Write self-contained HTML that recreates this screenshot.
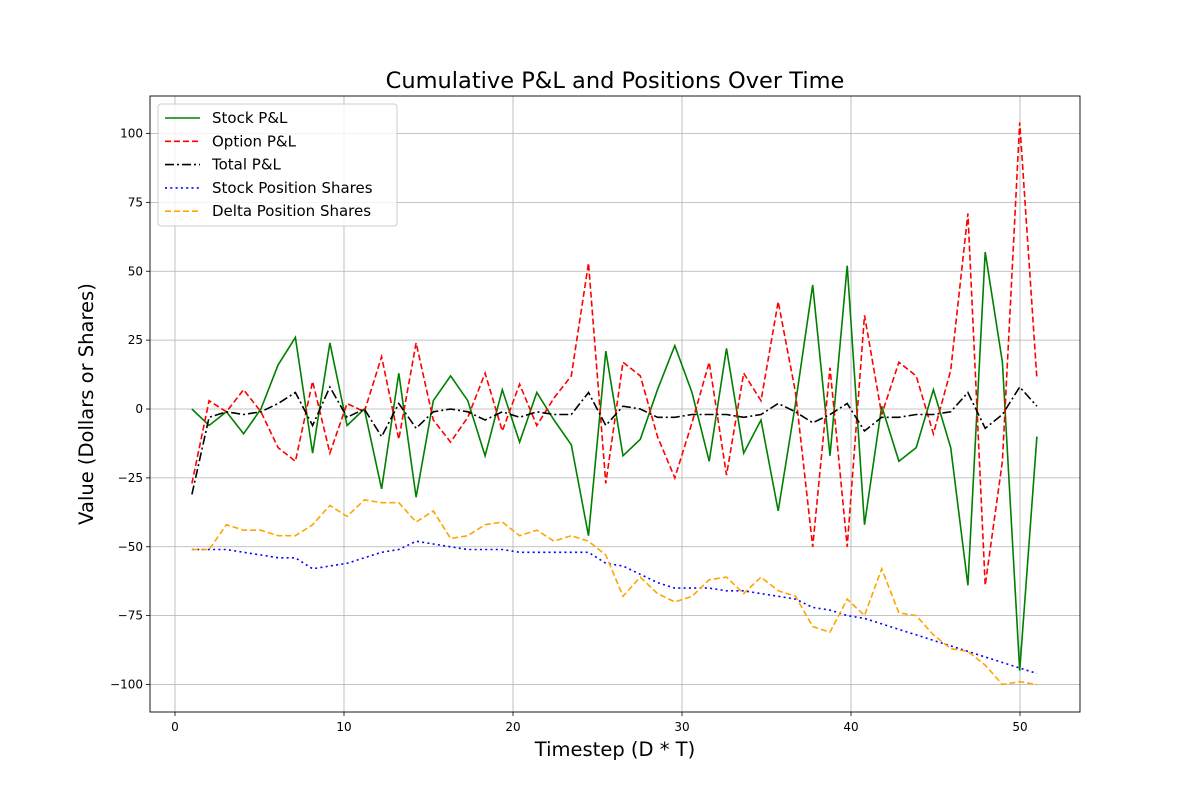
<!DOCTYPE html>
<html><head><meta charset="utf-8"><style>
body{margin:0;background:#fff;font-family:"Liberation Sans","DejaVu Sans",sans-serif}
svg{display:block}
</style></head><body>
<svg id="chart" width="1200" height="800" xmlns="http://www.w3.org/2000/svg" font-family="DejaVu Sans, Liberation Sans, sans-serif"></svg>
<script>
const stockPnl=[0,-6,-1,-9,0,16,26,-16,24,-6,0,-29,13,-32,3,12,3,-17,7,-12,6,-4,-13,-46,21,-17,-11,7,23,6,-19,22,-16,-4,-37,2,45,-17,52,-42,1,-19,-14,7,-14,-64,57,17,-95,-10];
const optionPnl=[-27,3,-1,7,-1,-14,-19,10,-16,2,-1,19,-11,24,-4,-12,-3,13,-8,9,-6,4,12,53,-27,17,12,-10,-25,-5,17,-24,13,3,39,6,-50,15,-50,34,-2,17,12,-9,14,71,-64,-19,104,11];
const totalPnl=[-31,-3,-1,-2,-1,2,6,-6,8,-3,0,-10,2,-7,-1,0,-1,-4,-1,-3,-1,-2,-2,6,-6,1,0,-3,-3,-2,-2,-2,-3,-2,2,-1,-5,-2,2,-8,-3,-3,-2,-2,-1,6,-7,-2,8,1];
const stockShares=[-51,-51,-51,-52,-53,-54,-54,-58,-57,-56,-54,-52,-51,-48,-49,-50,-51,-51,-51,-52,-52,-52,-52,-52,-56,-57,-60,-63,-65,-65,-65,-66,-66,-67,-68,-69,-72,-73,-75,-76,-78,-80,-82,-84,-86,-88,-90,-92,-94,-96];
const deltaShares=[-51,-51,-42,-44,-44,-46,-46,-42,-35,-39,-33,-34,-34,-41,-37,-47,-46,-42,-41,-46,-44,-48,-46,-48,-53,-68,-61,-67,-70,-68,-62,-61,-67,-61,-66,-68,-79,-81,-69,-75,-58,-74,-75,-82,-87,-88,-93,-100,-99,-100];
const xTicks=[0,10,20,30,40,50];
const yTicks=[-100,-75,-50,-25,0,25,50,75,100];

const svg=document.getElementById('chart');
const NS='http://www.w3.org/2000/svg';
const L=150,R=1080,T=96,B=712;
const X=v=>175+(v)*16.9;
const Y=v=>409-v*2.755;
function mk(tag,attrs,parent){const e=document.createElementNS(NS,tag);for(const k in attrs)e.setAttribute(k,attrs[k]);(parent||svg).appendChild(e);return e;}
const n=stockPnl.length;
const xs=stockPnl.map((_,i)=>1+i*50/(n-1));

xTicks.forEach(t=>{
  const g=mk('line',{x1:X(t),x2:X(t),y1:T,y2:B,stroke:'#b0b0b0','stroke-width':0.8});
  
  
  mk('line',{x1:X(t),x2:X(t),y1:B,y2:B+4,stroke:'#000','stroke-width':0.8});
  const tx=mk('text',{x:X(t),y:B+19,'text-anchor':'middle','font-size':12});
  tx.textContent=t;
  
  
});
yTicks.forEach(t=>{
  const g=mk('line',{x1:L,x2:R,y1:Y(t),y2:Y(t),stroke:'#b0b0b0','stroke-width':0.8});
  
  
  mk('line',{x1:L-4,x2:L,y1:Y(t),y2:Y(t),stroke:'#000','stroke-width':0.8});
  const tx=mk('text',{x:L-7,y:Y(t)+4,'text-anchor':'end','font-size':12});
  tx.textContent=t===0?'0':(t<0?'\u2212'+(-t):t);
  
  
});

const series=[
 {d:stockPnl,c:'green',dash:'',name:'stock-pnl-line',label:'Stock P&L'},
 {d:optionPnl,c:'red',dash:'6,3',name:'option-pnl-line',label:'Option P&L'},
 {d:totalPnl,c:'black',dash:'9,3,2,3',name:'total-pnl-line',label:'Total P&L'},
 {d:stockShares,c:'blue',dash:'2,3.3',name:'stock-position-line',label:'Stock Position Shares'},
 {d:deltaShares,c:'orange',dash:'6,3',name:'delta-position-line',label:'Delta Position Shares'}
];
series.forEach(s=>{
  const p=mk('polyline',{points:s.d.map((v,i)=>X(xs[i]).toFixed(1)+','+Y(v).toFixed(1)).join(' '),fill:'none',stroke:s.c,'stroke-width':1.6,'stroke-dasharray':s.dash});
  
  
});

const frame=mk('rect',{x:L,y:T,width:R-L,height:B-T,fill:'none',stroke:'#000','stroke-width':0.9});



const lg=mk('g',{});


mk('rect',{x:158,y:104,width:239,height:122,rx:3,fill:'#fff','fill-opacity':0.8,stroke:'#ccc'},lg);
series.forEach((s,i)=>{
  const y=118+i*23.3;
  mk('line',{x1:165,x2:200,y1:y,y2:y,stroke:s.c,'stroke-width':1.6,'stroke-dasharray':s.dash},lg);
  const t=mk('text',{x:212,y:y+5,'font-size':15},lg);
  t.textContent=s.label;
  
  
});

const title=mk('text',{x:615,y:88,'text-anchor':'middle','font-size':22.5});
title.textContent='Cumulative P&L and Positions Over Time';


const xl=mk('text',{x:615,y:756,'text-anchor':'middle','font-size':19.5});
xl.textContent='Timestep (D * T)';


const yl=mk('text',{x:0,y:0,'text-anchor':'middle','font-size':19.5,transform:'translate(93,404) rotate(-90)'});
yl.textContent='Value (Dollars or Shares)';


</script>
</body></html>
